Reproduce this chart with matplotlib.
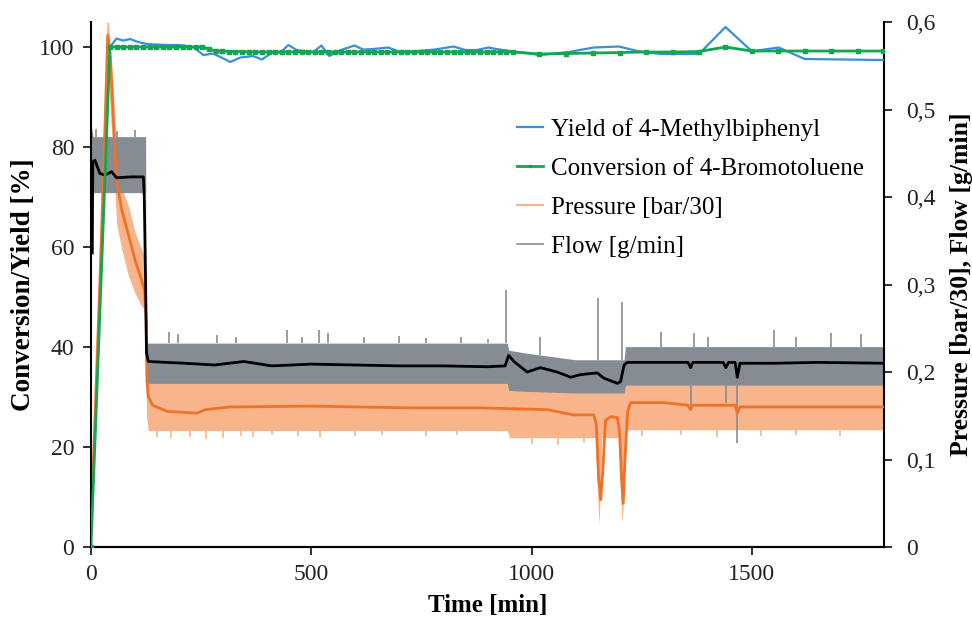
import numpy as np
import matplotlib
matplotlib.use("Agg")
import matplotlib.pyplot as plt
from matplotlib.lines import Line2D
from matplotlib.ticker import FuncFormatter

plt.rcParams['font.family'] = ['Liberation Serif', 'DejaVu Serif']

# --- conversion of 4-bromotoluene (left axis, %)
conv_t = [0, 43, 58, 73, 88, 103, 118, 133, 148, 163, 178, 193, 208, 223, 238, 253,
          268, 283, 298, 313, 328, 343, 358, 373, 388, 403, 418, 433, 448, 463, 478,
          493, 508, 523, 538, 553, 568, 583, 598, 613, 628, 643, 658, 673, 688, 703,
          718, 733, 748, 763, 778, 793, 808, 823, 838, 853, 868, 883, 898, 913, 928,
          943, 958, 1018, 1078, 1139, 1200, 1260, 1320, 1380, 1440, 1500, 1560, 1620,
          1680, 1740, 1798]
conv_v = [0, 100, 100, 100, 100, 100, 100, 100, 100, 100, 100, 100, 100, 100, 100, 100,
          99.6, 99.2, 99.2, 99.1, 99.1, 99.1, 99.0, 99.0, 99.0, 99.0, 99.0, 99.0, 99.0,
          99.0, 99.0, 99.0, 99.0, 99.0, 99.0, 99.0, 99.0, 99.0, 99.0, 99.0, 99.0, 99.0,
          99.0, 99.0, 99.0, 99.0, 99.0, 99.0, 99.0, 99.0, 99.0, 99.0, 99.0, 99.0, 99.0,
          99.0, 99.0, 99.0, 99.0, 99.0, 99.0, 99.0, 99.0, 98.6, 98.7, 98.8, 98.9, 99.0,
          99.0, 99.1, 100.0, 99.2, 99.2, 99.2, 99.2, 99.2, 99.2]

# --- yield of 4-methylbiphenyl (left axis, %)
yield_t = [43, 58, 73, 89, 107, 127, 149, 172, 202, 232, 255, 277, 308, 316, 339, 368,
           388, 411, 430, 448, 467, 485, 505, 523, 541, 561, 598, 618, 640, 675, 702,
           740, 780, 823, 850, 875, 902, 927, 955, 989, 1018, 1084, 1141, 1198, 1241,
           1293, 1380, 1440, 1500, 1561, 1620, 1800]
yield_v = [100, 101.7, 101.3, 101.6, 101.0, 100.6, 100.5, 100.4, 100.4, 100.0, 98.4,
           98.7, 97.4, 97.0, 97.9, 98.2, 97.5, 98.9, 98.9, 100.4, 99.4, 99.2, 99.0,
           100.3, 98.2, 99.2, 100.3, 99.5, 99.6, 99.9, 99.0, 99.2, 99.5, 100.1, 99.4,
           99.4, 99.9, 99.5, 99.15, 98.8, 98.4, 99.0, 99.9, 100.1, 99.2, 98.6, 98.6,
           104.0, 99.15, 99.9, 97.6, 97.4]

# --- pressure [bar/30], smoothed trace (right axis)
pres_t = [0, 10, 20, 30, 38, 44, 51, 58, 70, 85, 100, 115, 122, 125, 127, 130, 140,
          173, 240, 260, 313, 500, 725, 884, 1036, 1095, 1141, 1147, 1152, 1157, 1162,
          1168, 1180, 1195, 1200, 1204, 1208, 1212, 1218, 1225, 1300, 1355, 1361, 1366,
          1462, 1467, 1473, 1600, 1800]
pres_v = [0.023, 0.16, 0.30, 0.45, 0.585, 0.56, 0.488, 0.419, 0.385, 0.357, 0.328,
          0.305, 0.292, 0.26, 0.19, 0.172, 0.162, 0.155, 0.153, 0.157, 0.160, 0.161,
          0.159, 0.159, 0.157, 0.151, 0.151, 0.14, 0.08, 0.054, 0.09, 0.145, 0.149,
          0.148, 0.13, 0.08, 0.05, 0.10, 0.155, 0.165, 0.165, 0.162, 0.157, 0.162,
          0.162, 0.153, 0.160, 0.160, 0.160]

# --- pressure raw data envelope
pband_t = [0, 20, 36, 40, 51, 58, 70, 85, 100, 115, 124, 126, 130, 945, 950, 1145,
           1150, 1153, 1156, 1160, 1166, 1198, 1202, 1205, 1210, 1214, 1800]
pband_lo = [0.0, 0.25, 0.52, 0.53, 0.44, 0.37, 0.34, 0.31, 0.29, 0.275, 0.27, 0.15,
            0.133, 0.133, 0.125, 0.125, 0.06, 0.025, 0.06, 0.125, 0.125, 0.125, 0.06,
            0.028, 0.06, 0.134, 0.134]
pband_hi = [0.05, 0.33, 0.60, 0.60, 0.52, 0.45, 0.41, 0.39, 0.36, 0.34, 0.33, 0.20,
            0.19, 0.19, 0.185, 0.185, 0.185, 0.185, 0.185, 0.185, 0.185, 0.185,
            0.185, 0.185, 0.185, 0.19, 0.19]
pspike_t = [150, 182, 225, 262, 300, 340, 368, 411, 470, 520, 600, 660, 760, 830,
            1000, 1060, 1120, 1250, 1340, 1420, 1520, 1600, 1700]
pspike_v = [0.126, 0.125, 0.126, 0.124, 0.125, 0.127, 0.126, 0.128, 0.127, 0.126,
            0.127, 0.128, 0.127, 0.128, 0.118, 0.117, 0.119, 0.127, 0.128, 0.126,
            0.127, 0.128, 0.127]

# --- flow [g/min], smoothed trace (right axis)
flow_t = [3, 4, 9, 20, 32, 47, 58, 90, 119, 121, 124, 126, 130, 213, 280, 347, 410,
          500, 600, 700, 800, 900, 940, 948, 960, 990, 1020, 1058, 1089, 1111, 1149,
          1164, 1195, 1202, 1210, 1217, 1300, 1355, 1361, 1366, 1435, 1441, 1447,
          1462, 1467, 1473, 1550, 1650, 1800]
flow_v = [0.336, 0.44, 0.442, 0.427, 0.425, 0.429, 0.422, 0.423, 0.423, 0.40, 0.30,
          0.222, 0.212, 0.210, 0.208, 0.212, 0.207, 0.209, 0.208, 0.207, 0.207, 0.206,
          0.207, 0.219, 0.212, 0.200, 0.205, 0.200, 0.194, 0.197, 0.199, 0.193, 0.187,
          0.189, 0.208, 0.211, 0.211, 0.211, 0.205, 0.211, 0.211, 0.205, 0.211, 0.211,
          0.194, 0.210, 0.210, 0.211, 0.210]

# --- flow raw data envelope
fband_t = [1, 5, 124, 125.5, 945, 948, 982, 1100, 1210, 1213, 1800]
fband_lo = [0.34, 0.405, 0.405, 0.187, 0.187, 0.179, 0.178, 0.176, 0.176, 0.185, 0.185]
fband_hi = [0.48, 0.469, 0.469, 0.233, 0.233, 0.225, 0.222, 0.214, 0.214, 0.229, 0.229]
fspike_t = [12, 60, 100, 178, 198, 286, 330, 445, 480, 518, 539, 620, 700, 760, 840,
            900, 943, 1020, 1150, 1205, 1293, 1368, 1400, 1550, 1600, 1680, 1748]
fspike_v = [0.478, 0.476, 0.477, 0.246, 0.244, 0.242, 0.240, 0.248, 0.240, 0.248,
            0.245, 0.240, 0.241, 0.239, 0.240, 0.238, 0.294, 0.24, 0.285, 0.28, 0.246,
            0.245, 0.240, 0.248, 0.240, 0.245, 0.243]
fdrop_t = [1361, 1441, 1466]
fdrop_v = [0.16, 0.165, 0.119]

c_blue = '#3a8fd6'
c_green = '#12a650'
c_orange = '#f07228'
c_lorange = '#f8b58c'
c_gray = '#868c94'

fig = plt.figure(figsize=(9.72, 6.24), dpi=100)
ax = fig.add_axes([0.0936, 0.1234, 0.8159, 0.8413])
ax2 = ax.twinx()

# raw bands and smoothed traces on the right axis
ax2.fill_between(pband_t, pband_lo, pband_hi, color=c_lorange, lw=0, zorder=1)
ax2.vlines(pspike_t, np.interp(pspike_t, pband_t, pband_lo), pspike_v,
           color=c_lorange, lw=1.2, zorder=1)
ax2.fill_between(fband_t, fband_lo, fband_hi, color=c_gray, lw=0, zorder=2)
ax2.vlines(fspike_t, np.interp(fspike_t, fband_t, fband_hi), fspike_v,
           color=c_gray, lw=1.2, zorder=2)
ax2.vlines(fdrop_t, fdrop_v, np.interp(fdrop_t, fband_t, fband_lo),
           color=c_gray, lw=1.2, zorder=2)
ax2.plot(pres_t, pres_v, color=c_orange, lw=2, zorder=3)
ax2.plot(flow_t, flow_v, color='black', lw=2, zorder=4)

# yield / conversion on the left axis, drawn on top
ax.plot(yield_t, yield_v, color=c_blue, lw=1.6, zorder=5)
ax.plot(conv_t, conv_v, color=c_green, lw=2, marker='s', ms=2.5, zorder=6)
ax.set_zorder(ax2.get_zorder() + 1)
ax.patch.set_visible(False)

ax.set_xlim(0, 1800)
ax.set_ylim(0, 105)
ax2.set_ylim(0, 0.6)
ax.set_xticks([0, 500, 1000, 1500])
ax.set_yticks([0, 20, 40, 60, 80, 100])
ax2.set_yticks([0, 0.1, 0.2, 0.3, 0.4, 0.5, 0.6])
ax2.yaxis.set_major_formatter(FuncFormatter(
    lambda v, p: '0' if v == 0 else ('%.1f' % v).replace('.', ',')))

for a in (ax, ax2):
    a.spines['top'].set_visible(False)
    for s in a.spines.values():
        s.set_linewidth(1.5)
ax.spines['right'].set_visible(False)
ax2.spines['left'].set_visible(False)
ax.tick_params(axis='both', direction='out', length=6, width=1.3, labelsize=17,
               colors='#222222', pad=6)
ax2.tick_params(axis='y', direction='out', length=6, width=1.3, labelsize=17,
                colors='#222222', pad=10)

ax.set_xlabel('Time [min]', fontsize=18, fontweight='bold', labelpad=7)
ax.set_ylabel('Conversion/Yield [%]', fontsize=19.5, fontweight='bold', labelpad=2)
ax2.set_ylabel('Pressure [bar/30], Flow [g/min]', fontsize=18.5, fontweight='bold',
               rotation=90, labelpad=10)

handles = [Line2D([], [], color=c_blue, lw=1.6),
           Line2D([], [], color=c_green, lw=2, marker='s', ms=2.5),
           Line2D([], [], color=c_lorange, lw=1.6),
           Line2D([], [], color=c_gray, lw=1.2)]
labels = ['Yield of 4-Methylbiphenyl', 'Conversion of 4-Bromotoluene',
          'Pressure [bar/30]', 'Flow [g/min]']
ax.legend(handles, labels, loc='upper left', bbox_to_anchor=(0.537, 0.818),
          frameon=False, fontsize=18, handlelength=1.05, handletextpad=0.3,
          labelspacing=0.66, borderpad=0, borderaxespad=0, markerscale=0.8)

fig.savefig('out.png', dpi=100)
